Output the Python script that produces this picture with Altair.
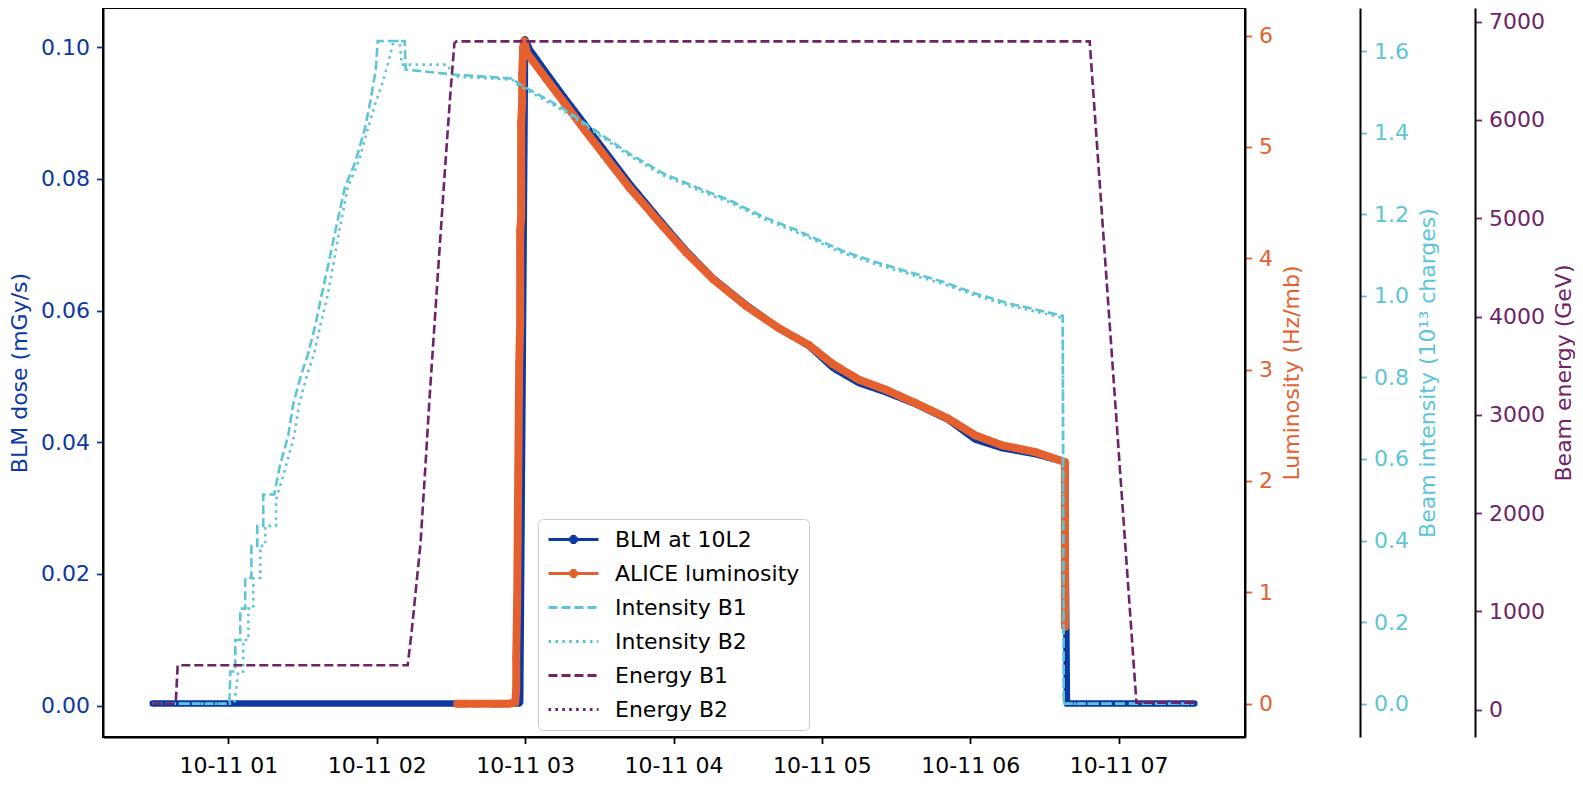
import altair as alt
import pandas as pd

DAY = "2022-10-11"
BLUE = "#0b38a3"
ORANGE = "#e4612f"
CYAN = "#5ec5d6"
PURPLE = "#6f2467"
FONT = "DejaVu Sans"

SERIES = ["BLM at 10L2", "ALICE luminosity", "Intensity B1", "Intensity B2", "Energy B1", "Energy B2"]
SERIES_COLORS = [BLUE, ORANGE, CYAN, CYAN, PURPLE, PURPLE]
SERIES_DASHES = [[1, 0], [1, 0], [9, 4], [2.6, 4.3], [9, 4], [2.6, 4.3]]
# legend glyphs: plain line, or line with a marker dot in the middle
LINE_GLYPH = "M-1,0H4"
DOT_GLYPH = ("M-1,0H4M1.27,-0.3H1.73M1.1,-0.15H1.9M1.1,0.15H1.9M1.27,0.3H1.73")
SERIES_GLYPHS = [DOT_GLYPH, DOT_GLYPH, LINE_GLYPH, LINE_GLYPH, LINE_GLYPH, LINE_GLYPH]

# times are minutes after 00:00 on 10-11
blm_min = [29.4, 177.6, 178.0, 180.0, 182.0, 188.9, 195.7, 203.8, 211.8, 222.3, 236.0, 245.2, 256.1,
           269.4, 282.7, 294.8, 304.4, 314.9, 325.8, 337.8, 351.1, 362.0, 372.9, 386.2, 398.3, 399.1, 450.6]
blm_val = [0.0003, 0.0003, 0.0005, 0.1012, 0.0996, 0.0960, 0.0925, 0.0885, 0.0845, 0.0793, 0.0731, 0.0691,
           0.0649, 0.0609, 0.0573, 0.0546, 0.0513, 0.0490, 0.0476, 0.0458, 0.0434, 0.0404, 0.0391, 0.0382,
           0.0370, 0.0003, 0.0003]

lum_min = [152.6, 155.4, 160.7, 167.5, 170.7, 173.6, 176.0, 176.4, 176.4, 176.8, 177.2, 177.6, 178.0, 178.0,
           178.0, 178.4, 178.4, 178.8, 178.8, 179.2, 179.6, 180.8, 188.9, 195.7, 203.8, 211.8, 222.3, 236.0,
           245.2, 256.1, 269.4, 282.7, 294.8, 304.4, 314.9, 325.8, 337.8, 351.1, 362.0, 372.9, 386.2, 398.3, 398.3]
lum_val = [0, 0, 0, 0, 0, 0, 0.01, 0.13, 0.42, 0.95, 2.05, 3.05, 3.40, 4.10, 4.25, 4.36, 5.22, 5.40, 5.65,
           5.89, 5.95, 5.84, 5.60, 5.40, 5.16, 4.93, 4.63, 4.28, 4.05, 3.81, 3.57, 3.37, 3.22, 3.05, 2.91, 2.82,
           2.70, 2.56, 2.41, 2.32, 2.26, 2.17, 0.69]

int_b1_min = [29.4, 60.4, 60.8, 62.8, 62.8, 64.8, 64.8, 66.8, 66.8, 69.3, 69.3, 71.7, 71.7, 74.1, 74.1, 78.5,
              80.9, 84.2, 86.2, 89.4, 92.2, 95.4, 97.4, 100.3, 103.1, 107.1, 111.5, 115.2, 117.6, 119.6, 120.4,
              131.3, 131.7, 150.6, 174.8, 176.8, 195.7, 209.0, 222.3, 236.0, 249.3, 262.5, 276.2, 289.5, 308.5,
              321.7, 335.0, 348.7, 362.0, 375.3, 389.0, 397.4, 397.8, 450.6]
int_b1_val = [0, 0, 0.079, 0.079, 0.156, 0.156, 0.233, 0.233, 0.308, 0.308, 0.387, 0.387, 0.436, 0.436, 0.513,
              0.513, 0.585, 0.657, 0.734, 0.806, 0.857, 0.934, 0.994, 1.073, 1.155, 1.266, 1.331, 1.410, 1.483,
              1.555, 1.625, 1.625, 1.555, 1.543, 1.533, 1.523, 1.458, 1.403, 1.348, 1.300, 1.266, 1.235, 1.194,
              1.162, 1.110, 1.083, 1.059, 1.035, 1.006, 0.982, 0.963, 0.951, 0, 0]

int_b2_min = [29.4, 62.4, 64.0, 66.0, 66.0, 68.1, 68.1, 70.1, 70.1, 72.9, 72.9, 74.9, 74.9, 79.3, 79.3, 83.4,
              86.6, 88.6, 91.8, 94.6, 97.4, 99.9, 102.3, 104.7, 108.3, 112.8, 116.4, 119.6, 122.4, 124.4, 126.8,
              129.3, 130.1, 148.6, 151.0, 174.8, 176.8, 195.7, 209.0, 222.3, 236.0, 249.3, 262.5, 276.2, 289.5,
              308.5, 321.7, 335.0, 348.7, 362.0, 375.3, 389.0, 397.4, 397.8, 450.6]
int_b2_val = [0, 0, 0.079, 0.079, 0.156, 0.156, 0.233, 0.233, 0.308, 0.308, 0.387, 0.387, 0.436, 0.436, 0.501,
              0.585, 0.657, 0.734, 0.806, 0.857, 0.934, 0.994, 1.073, 1.155, 1.266, 1.331, 1.410, 1.475, 1.523,
              1.567, 1.625, 1.625, 1.567, 1.567, 1.538, 1.530, 1.518, 1.453, 1.398, 1.343, 1.295, 1.261, 1.230,
              1.189, 1.157, 1.105, 1.078, 1.054, 1.030, 1.001, 0.977, 0.958, 0.946, 0, 0]

en_b1_min = [29.4, 38.7, 39.5, 132.5, 134.1, 135.7, 137.7, 139.7, 141.3, 144.6, 147.4, 149.8, 151.4, 152.2,
             408.3, 427.2, 450.6]
en_b1_val = [60, 60, 450, 450, 790, 1190, 1690, 2490, 3150, 4390, 5430, 6280, 6780, 6800, 6800, 70, 70]

en_b2_min = [427.2, 450.6]
en_b2_val = [70, 70]

blm_ticks = [0.00, 0.02, 0.04, 0.06, 0.08, 0.10]
lum_ticks = [0, 1, 2, 3, 4, 5, 6]
int_ticks = [0.0, 0.2, 0.4, 0.6, 0.8, 1.0, 1.2, 1.4, 1.6]
en_ticks = [0, 1000, 2000, 3000, 4000, 5000, 6000, 7000]
hour_ticks = [1, 2, 3, 4, 5, 6, 7]
x_start = (0, 9, 18)
x_end = (7, 51, 6)


def stamp(minutes):
    sec = int(round(minutes * 60))
    return f"{DAY}T{sec // 3600:02d}:{(sec % 3600) // 60:02d}:{sec % 60:02d}"


def make_df(series, minutes, values):
    return pd.DataFrame({
        "t": [stamp(m) for m in minutes],
        "v": values,
        "series": series,
    })


def dt(h, m=0, s=0):
    return alt.DateTime(year=2022, month=10, date=11, hours=h, minutes=m, seconds=s)


df_blm = make_df("BLM at 10L2", blm_min, blm_val)
df_lum = make_df("ALICE luminosity", lum_min, lum_val)
df_int = pd.concat([make_df("Intensity B1", int_b1_min, int_b1_val),
                    make_df("Intensity B2", int_b2_min, int_b2_val)], ignore_index=True)
df_en = pd.concat([make_df("Energy B1", en_b1_min, en_b1_val),
                   make_df("Energy B2", en_b2_min, en_b2_val)], ignore_index=True)
df_empty = pd.DataFrame({"t": pd.Series([], dtype=str), "v": pd.Series([], dtype=float),
                         "series": pd.Series([], dtype=str)})

x_enc = alt.X(
    "t:T",
    scale=alt.Scale(domain=[dt(*x_start), dt(*x_end)]),
    axis=alt.Axis(title=None, format="%m-%d %H",
                  values=[dt(h) for h in hour_ticks],
                  labelColor="black", tickColor="black", domainColor="black",
                  labelPadding=12, grid=False),
)

legend = alt.Legend(
    title=None, orient="none", legendX=435, legendY=511,
    symbolType=LINE_GLYPH, symbolSize=400, symbolStrokeWidth=3, symbolOpacity=1,
    labelFontSize=22, labelColor="black", labelFont=FONT, labelOffset=45, labelLimit=400,
    rowPadding=11, padding=9, fillColor="rgba(255,255,255,0.85)",
    strokeColor="#cccccc", cornerRadius=5,
)
color_enc = alt.Color("series:N", scale=alt.Scale(domain=SERIES, range=SERIES_COLORS), legend=legend)
dash_enc = alt.StrokeDash("series:N", scale=alt.Scale(domain=SERIES, range=SERIES_DASHES), legend=legend)
shape_enc = alt.Shape("series:N", scale=alt.Scale(domain=SERIES, range=SERIES_GLYPHS), legend=legend)


def y_enc(domain, ticks, fmt, color, title, orient, offset):
    return alt.Y(
        "v:Q",
        scale=alt.Scale(domain=domain, nice=False, zero=False),
        axis=alt.Axis(
            orient=orient, offset=offset, values=ticks, format=fmt, title=title,
            titleColor=color, labelColor=color, tickColor=color, domainColor="black",
            titleAngle=270, titleBaseline="bottom" if orient == "left" else "top",
            grid=False,
        ),
    )


y_blm = y_enc([-0.00477, 0.10596], blm_ticks, ".2f", BLUE, "BLM dose (mGy/s)", "left", 0)
y_lum = y_enc([-0.2996, 6.247], lum_ticks, "d", ORANGE, "Luminosity (Hz/mb)", "right", 0)
y_int = y_enc([-0.0818, 1.7059], int_ticks, ".1f", CYAN, "Beam intensity (10¹³ charges)", "right", 115)
y_en = y_enc([-279.6, 7139.8], en_ticks, "d", PURPLE, "Beam energy (GeV)", "right", 230)

blm = alt.Chart(df_blm).mark_line(strokeWidth=6.5, strokeCap="round", strokeJoin="round").encode(
    x=x_enc, y=y_blm, color=color_enc, strokeDash=dash_enc)

lum_line = alt.Chart(df_lum).mark_line(strokeWidth=8, strokeCap="round", strokeJoin="round").encode(
    x=x_enc, y=y_lum, color=color_enc, strokeDash=dash_enc)
lum_pts = alt.Chart(df_lum).mark_circle(size=60, opacity=1).encode(
    x=x_enc, y=y_lum, color=color_enc)
legend_glyphs = alt.Chart(df_empty).mark_point().encode(
    x=x_enc, y=y_lum, color=color_enc, shape=shape_enc)
lum = alt.layer(lum_line, lum_pts, legend_glyphs)

inten = alt.Chart(df_int).mark_line(strokeWidth=2.6).encode(
    x=x_enc, y=y_int, color=color_enc, strokeDash=dash_enc)

energy = alt.Chart(df_en).mark_line(strokeWidth=2.6).encode(
    x=x_enc, y=y_en, color=color_enc, strokeDash=dash_enc)

chart = (
    alt.layer(blm, lum, inten, energy)
    .resolve_scale(y="independent")
    .properties(width=1142, height=729, padding=0)
    .configure(font=FONT)
    .configure_view(stroke="black", strokeWidth=2)
    .configure_axis(
        labelFontSize=22, titleFontSize=22, titleFontWeight="normal",
        labelFont=FONT, titleFont=FONT,
        tickSize=6.5, tickWidth=1.8, domainWidth=2, labelPadding=7, titlePadding=9,
    )
)

chart.save("out.html", embed_options={"renderer": "svg", "actions": False})
